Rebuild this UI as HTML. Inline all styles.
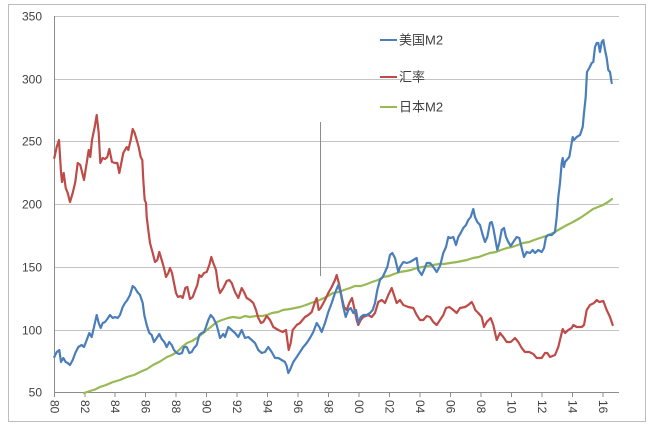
<!DOCTYPE html>
<html><head><meta charset="utf-8"><style>
html,body{margin:0;padding:0;background:#fff;}
svg{display:block;}
text{font-family:"Liberation Sans","Noto Sans CJK SC",sans-serif;fill:#404040;}
</style></head><body>
<svg width="654" height="427" viewBox="0 0 654 427" xmlns="http://www.w3.org/2000/svg">
<rect x="8.5" y="4.5" width="637" height="417" fill="#fff" stroke="#bdbdbd" stroke-width="1"/>
<g stroke="#c4c4c4" stroke-width="1">
<line x1="54" y1="16.5" x2="619" y2="16.5"/>
<line x1="54" y1="79.5" x2="619" y2="79.5"/>
<line x1="54" y1="141.5" x2="619" y2="141.5"/>
<line x1="54" y1="204.5" x2="619" y2="204.5"/>
<line x1="54" y1="267.5" x2="619" y2="267.5"/>
<line x1="54" y1="330.5" x2="619" y2="330.5"/>
</g>
<g stroke="#8c8c8c" stroke-width="1">
<line x1="54.5" y1="16" x2="54.5" y2="393"/>
<line x1="54" y1="392.5" x2="619" y2="392.5"/>
<line x1="54.5" y1="392" x2="54.5" y2="397"/>
<line x1="85" y1="392" x2="85" y2="397"/>
<line x1="115" y1="392" x2="115" y2="397"/>
<line x1="145.5" y1="392" x2="145.5" y2="397"/>
<line x1="176" y1="392" x2="176" y2="397"/>
<line x1="206.5" y1="392" x2="206.5" y2="397"/>
<line x1="237" y1="392" x2="237" y2="397"/>
<line x1="267.5" y1="392" x2="267.5" y2="397"/>
<line x1="298" y1="392" x2="298" y2="397"/>
<line x1="328.5" y1="392" x2="328.5" y2="397"/>
<line x1="359" y1="392" x2="359" y2="397"/>
<line x1="389.5" y1="392" x2="389.5" y2="397"/>
<line x1="420" y1="392" x2="420" y2="397"/>
<line x1="450.5" y1="392" x2="450.5" y2="397"/>
<line x1="481" y1="392" x2="481" y2="397"/>
<line x1="511.5" y1="392" x2="511.5" y2="397"/>
<line x1="542" y1="392" x2="542" y2="397"/>
<line x1="572.5" y1="392" x2="572.5" y2="397"/>
<line x1="603" y1="392" x2="603" y2="397"/>
</g>
<line x1="320.5" y1="122" x2="320.5" y2="276" stroke="#8c8c8c" stroke-width="1"/>
<g font-size="12" text-anchor="end">
<text x="42" y="20.5">350</text>
<text x="42" y="83.5">300</text>
<text x="42" y="145.5">250</text>
<text x="42" y="208.5">200</text>
<text x="42" y="271.5">150</text>
<text x="42" y="334.5">100</text>
<text x="42" y="396.5">50</text>
</g>
<g font-size="12">
<text transform="translate(50.5,400) rotate(90)">80</text>
<text transform="translate(81,400) rotate(90)">82</text>
<text transform="translate(111,400) rotate(90)">84</text>
<text transform="translate(141.5,400) rotate(90)">86</text>
<text transform="translate(172,400) rotate(90)">88</text>
<text transform="translate(202.5,400) rotate(90)">90</text>
<text transform="translate(233,400) rotate(90)">92</text>
<text transform="translate(263.5,400) rotate(90)">94</text>
<text transform="translate(294,400) rotate(90)">96</text>
<text transform="translate(324.5,400) rotate(90)">98</text>
<text transform="translate(355,400) rotate(90)">00</text>
<text transform="translate(385.5,400) rotate(90)">02</text>
<text transform="translate(416,400) rotate(90)">04</text>
<text transform="translate(446.5,400) rotate(90)">06</text>
<text transform="translate(477,400) rotate(90)">08</text>
<text transform="translate(507.5,400) rotate(90)">10</text>
<text transform="translate(538,400) rotate(90)">12</text>
<text transform="translate(568.5,400) rotate(90)">14</text>
<text transform="translate(599,400) rotate(90)">16</text>
</g>
<g fill="none" stroke-width="2.2" stroke-linejoin="round" stroke-linecap="round">
<polyline stroke="#98b954" points="84,393 90,391 95,389.5 100,387 106,385 113,382 120,380 127,377 134,375 140,372 147,369 153,365 160,361.5 167,357 172,355 177,352 182,347 187,343 192,341 197,338 202,334 207,330 212,326 217,322 222,320 228,318 233,317 240,318 245,316 250,317 256,316 262,316 267,315 272,313 278,312 283,310 290,309 295,308 300,307 306,305 311,303 317,301 322,299 328,296 333,293 339,292 344,290 350,288 355,286 361,286 367,284 372,282 378,280 383,277 389,276 394,274 400,272 406,271 411,270 417,268 422,267 428,266 433,265 439,264 444,264 450,263 457,262 462,261 467,260 473,258 479,257 484,255 490,253 496,252 501,250 507,248 512,247 518,245 523,243 529,242 534,240 540,238 546,236 553,233 560,229 567,225 573,222 580,218 586,214 593,209 598,207 603,205 608,202 612,199"/>
<polyline stroke="#be4b48" points="54.3,158 56.7,147 59,140 61,172 62,182 63.7,173 65.7,188 67.7,193 70,202 72.7,193 75.3,182 77.7,163 80.3,165 84,180 86.7,163 88.7,150 90.3,157 92,140 94.7,127 96.7,115 98.7,133 100.3,163 102.7,158 105,159 107.3,157 109.3,149 112,162 115,163 117.3,163 119.3,173 121.3,163 123.3,153 126.7,147 128.3,150 130.7,140 132.7,129 134.7,133 136.7,140 138.7,147 140.7,157 142.3,160 143.3,180 144.7,200 146,203 146.7,217 148.3,230 150,243 152.7,253 155,262 157.3,260 159.3,252 161.7,260 164,268 166,277 168.3,273 170,268 172,273 174,283 176,293 178,297 180.7,296 182.7,298 185.3,288 187.3,287 190,299 192.7,297 195.3,290 197.3,285 199.3,275 201.3,277 204,273 206.7,272 209.3,265 211.3,257 213.3,263 216,270 218.3,287 220,293 223.3,288 226.7,281 229.3,280 231.7,283 235,292 238.3,298 241.7,288 244,292 246.7,298 250,300 253.3,303 256,310 258.3,318 261,323 263.3,322 266.7,316 270,320 273.3,327 278.3,330 282.7,332 286,330 287.3,340 288.7,350 290.7,343 292.7,330 296.7,325 300,323 305,317 308.3,315 311.7,312 315,302 316.7,298 318.7,310 320.7,308 325,300 328.3,293 331.7,287 335,280 336.7,275 339.3,285 341.7,297 344,307 346.7,310 349.3,303 352,298 354,307 356.7,320 358.3,325 360.7,320 363.3,317 368.3,315 371.7,317 375,313 378.3,302 381.7,300 385,303 388.3,295 391.7,288 394,295 396.7,303 400,300 403.3,305 408.3,307 413.3,308 416.7,315 420,320 423.3,320 426.7,316 430,317 433.3,322 436.7,325 440,320 443.3,315 446,308 449.3,307 453.3,310 456.7,313 460,308 465,307 468.3,305 471.7,302 473.3,305 475.3,310 478.3,313 481.7,317 484,327 486.7,322 490.7,318 493.3,325 496.7,340 500,333 503.3,337 506.7,342 510.7,342 515,338 518.3,342 521.7,348 525,352 529.3,352 533.3,354 536.7,358 541.7,358 545,353 547.3,353 550,357 555,355 558.3,347 560.7,337 562.7,329 565,333 568.3,330 571.7,328 573.3,325 576.7,327 581.7,327 584,325 586.7,310 590,305 594,303 596.7,300 599.3,302 603.3,301 606.7,310 610,317 612.7,325"/>
<polyline stroke="#4a7ebb" points="54.3,357 56.7,352 59.3,350 61,362 63.3,358 65.7,362 67.7,363 70,365 72.7,360 75.3,353 78.3,347 81.7,345 84,347 86.7,340 89.3,333 91.7,337 94,327 96.7,315 98.7,323 100.7,328 102.7,323 105,322 107.3,319 110,315 112.7,318 115,317 117.7,318 120,315 122.7,307 125,303 127.3,300 130,295 132.7,286 135,288 137.3,292 140,295 142.7,303 144.3,315 146.7,325 149.3,333 151.7,335 154,342 156.7,338 159.3,334 161.7,339 164.3,342 166.7,347 169.3,342 171.7,345 174,350 176.7,353 179.3,354 182,353 184,347 186.7,347 189.3,353 191.7,352 194,348 196.7,345 199.3,335 201.7,333 204,332 206,327 208.3,320 210.7,315 213.3,318 216.7,325 220,338 223.3,334 225,337 228.3,327 231.7,330 235,333 238.3,337 241.7,330 245,338 248.3,337 251.7,340 255,343 258.3,350 261.7,353 265,352 268.3,347 271.7,352 275,358 278.3,358 281.7,360 285,362 286.7,366 288.3,373 290,370 293.3,362 296.7,357 300,352 303.3,347 306.7,343 310,338 313.3,332 316.7,323 319.3,327 321.7,332 325,323 328.3,312 331.7,303 335,293 338.3,285 340.7,293 343.3,307 345.7,317 348.3,310 350.7,308 353.3,313 356,310 358.3,323 360.7,317 363.3,315 366.7,315 370,313 372.7,310 375,303 377.3,290 380,280 382.7,277 385,272 387.3,267 390,255 392.3,253 395,258 398.3,272 400,267 403.3,262 406.7,263 410,262 413.3,260 416.7,258 418.3,270 421.7,275 424,270 426.7,263 430,263 433.3,267 436.7,272 440,266 443.3,253 446,247 448.3,237 450.7,238 453.3,237 456,245 458.3,237 460.7,233 463.3,228 466,225 468.3,220 470.7,217 473.3,209 475,217 477.3,222 480,225 482.7,235 485,242 487.3,237 490,223 491.7,222 493.3,228 496,243 497.3,250 499.3,243 501.7,230 504,228 506,237 508.3,242 510.7,246 513.3,242 516.7,237 519.3,238 521.7,248 524,257 526.7,252 530,253 532.7,250 535,253 538.3,250 541.7,252 544,248 546,237 548.3,235 551.7,235 555,232 556.7,217 558.3,197 560,183 561.7,163 562.7,158 564,167 565,162 566.7,160 569.3,157 571,147 572.7,137 574,140 576.7,137 580,135 582.7,127 584,113 585.7,97 587,72 589.3,68 591.7,63 593.3,62 595,47 596.7,43 598.3,43 600,52 601.7,42 603.3,40 605,50 606.7,58 608.3,70 610,72 611.7,83"/>
</g>
<g stroke-width="2">
<line x1="380" y1="40" x2="397" y2="40" stroke="#4a7ebb"/>
<line x1="380" y1="77" x2="397" y2="77" stroke="#be4b48"/>
<line x1="380" y1="107" x2="397" y2="107" stroke="#98b954"/>
</g>
<g font-size="13">
<text x="399" y="44.5">美国M2</text>
<text x="399" y="81.5">汇率</text>
<text x="399" y="111.5">日本M2</text>
</g>
</svg>
</body></html>
